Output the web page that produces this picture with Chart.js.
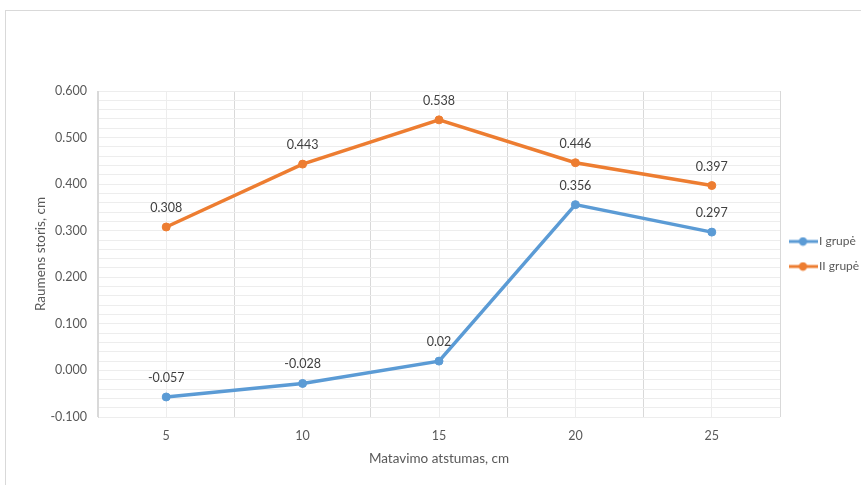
<!DOCTYPE html>
<html>
<head>
<meta charset="utf-8">
<script src="https://cdn.jsdelivr.net/npm/chart.js@4/dist/chart.umd.min.js"></script>
<style>
  html, body { margin: 0; padding: 0; background: #fff; overflow: hidden; }
  #frame { position: absolute; left: 5px; top: 10px; width: 900px; height: 520px;
           border-left: 1px solid #d9d9d9; border-top: 1px solid #d9d9d9; }
  #wrap { position: absolute; left: 0; top: 0; width: 861px; height: 485px; }
</style>
</head>
<body>
<div id="frame"></div>
<div id="wrap"><canvas id="chart" width="861" height="485"></canvas></div>
<script>
// Measurement distances (cm)
const distances = ['5', '10', '15', '20', '25'];
// Mean muscle thickness change per group (cm)
const groupI = [-0.057, -0.028, 0.02, 0.356, 0.297];
const groupII = [0.308, 0.443, 0.538, 0.446, 0.397];
const seriesNames = ['I grupė', 'II grupė'];
const axisTitleX = 'Matavimo atstumas, cm';
const axisTitleY = 'Raumens storis, cm';

const BLUE = '#5b9bd5';
const ORANGE = '#ed7d31';
const FONT = 'Lato, "Open Sans", sans-serif';

// Legend marker: a short line with a dot in the middle
function legendMarker(color) {
  const c = document.createElement('canvas');
  c.width = 29; c.height = 10;
  const g = c.getContext('2d');
  g.strokeStyle = color; g.lineWidth = 3;
  g.beginPath(); g.moveTo(0, 5); g.lineTo(29, 5); g.stroke();
  g.fillStyle = color;
  g.beginPath(); g.arc(14.5, 5, 4.2, 0, Math.PI * 2); g.fill();
  return c;
}
const markers = [legendMarker(BLUE), legendMarker(ORANGE)];

// Value labels above each point
const valueLabels = {
  id: 'valueLabels',
  afterDatasetsDraw(chart) {
    const ctx = chart.ctx;
    ctx.save();
    ctx.font = '12.5px ' + FONT;
    ctx.fillStyle = '#404040';
    ctx.textAlign = 'center';
    ctx.textBaseline = 'middle';
    chart.data.datasets.forEach((ds, i) => {
      const meta = chart.getDatasetMeta(i);
      meta.data.forEach((pt, j) => {
        ctx.fillText(String(ds.data[j]), pt.x, pt.y - 19);
      });
    });
    ctx.restore();
  }
};

new Chart(document.getElementById('chart'), {
  type: 'line',
  data: {
    labels: distances,
    datasets: [
      { label: seriesNames[0], data: groupI, borderColor: BLUE, backgroundColor: BLUE,
        pointBackgroundColor: BLUE, pointBorderColor: BLUE },
      { label: seriesNames[1], data: groupII, borderColor: ORANGE, backgroundColor: ORANGE,
        pointBackgroundColor: ORANGE, pointBorderColor: ORANGE }
    ]
  },
  options: {
    responsive: false,
    animation: false,
    events: [],
    layout: { padding: { left: 0, top: 91, right: 0, bottom: 0 } },
    elements: {
      line: { borderWidth: 3.5, tension: 0 },
      point: { radius: 4, borderWidth: 1 }
    },
    scales: {
      x: {
        type: 'category',
        offset: true,
        grid: { offset: true, color: '#d9d9d9', lineWidth: 1, drawTicks: false },
        border: { display: false },
        ticks: { color: '#595959', font: { family: FONT, size: 12.5 }, padding: 11 },
        title: { display: true, text: axisTitleX, color: '#595959',
                 font: { family: FONT, size: 13.5 }, padding: { top: 0, bottom: 18 } },
        afterFit(s) { s.height = 68; }
      },
      xMinor: {
        type: 'category',
        position: 'bottom',
        offset: true,
        z: -1,
        grid: { offset: false, color: '#ededed', lineWidth: 1, drawTicks: false },
        border: { display: false },
        ticks: { display: false },
        afterFit(s) { s.height = 0; }
      },
      y: {
        min: -0.1,
        max: 0.6,
        grid: { color: '#d9d9d9', lineWidth: 1, drawTicks: false },
        border: { display: true, color: '#d9d9d9' },
        ticks: { stepSize: 0.1, color: '#595959', font: { family: FONT, size: 12.5 }, padding: 11,
                 callback: v => (Math.abs(v) < 1e-9 ? 0 : v).toFixed(3) },
        title: { display: true, text: axisTitleY, color: '#595959',
                 font: { family: FONT, size: 13.5 }, padding: { top: 33, bottom: 0 } },
        afterFit(s) { s.width = 98; }
      },
      yMinor: {
        position: 'left',
        min: -0.1,
        max: 0.6,
        z: -1,
        grid: { color: '#ededed', lineWidth: 1, drawTicks: false },
        border: { display: false },
        ticks: { display: false, stepSize: 0.02 },
        afterFit(s) { s.width = 0; }
      }
    },
    plugins: {
      tooltip: { enabled: false },
      legend: {
        position: 'right',
        fullSize: false,
        maxWidth: 81,
        labels: {
          color: '#595959',
          font: { family: FONT, size: 12 },
          usePointStyle: true,
          pointStyleWidth: 20,
          padding: 13,
          generateLabels(chart) {
            return chart.data.datasets.map((ds, i) => ({
              text: ds.label,
              pointStyle: markers[i],
              fillStyle: ds.borderColor,
              strokeStyle: ds.borderColor,
              lineWidth: 0,
              fontColor: '#595959',
              hidden: !chart.isDatasetVisible(i),
              datasetIndex: i
            }));
          }
        }
      }
    }
  },
  plugins: [valueLabels]
});
</script>
</body>
</html>
